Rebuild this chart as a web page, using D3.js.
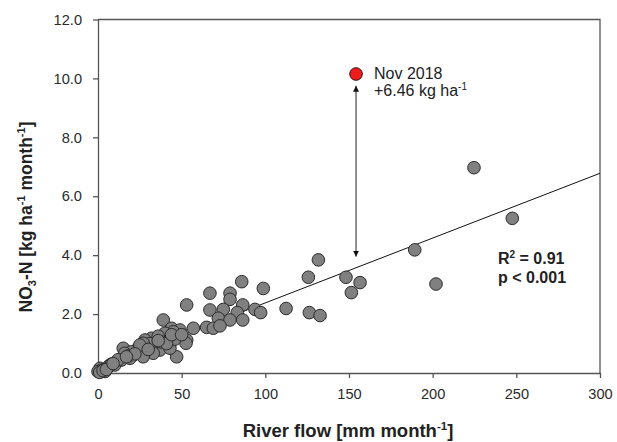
<!DOCTYPE html>
<html>
<head>
<meta charset="utf-8">
<script src="https://cdn.jsdelivr.net/npm/d3@7"></script>
<style>
  body { margin: 0; background: #fff; }
  svg text { font-family: "Liberation Sans", Arial, sans-serif; fill: #222; }
  .axis path, .axis line { stroke: #555; stroke-width: 1.3; }
  .axis text { font-size: 14.6px; fill: #2a2a2a; }
</style>
</head>
<body>
<svg id="chart"></svg>
<script>
// river flow (mm month-1) and NO3-N load (kg ha-1 month-1)
var flowValues = [
  224.7, 247.6, 189.3, 202, 131.7, 125.7, 148.2, 156.6, 151.4, 112.4, 126.3, 132.7, 93.8, 97.2, 98.8,
  85.9, 66.9, 78.9, 78.9, 53, 66.9, 74.9, 86.5, 83.2, 71.9, 78.9, 86.5, 64.9, 68.9, 72.9,
  57, 39, 44, 49, 42, 49, 53, 52.6, 47, 39, 32, 28.1, 34, 37, 43,
  35, 29.1, 23.1, 21.1, 15.1, 15.1, 19.1, 11.2, 7.2, 6.2, 1.2, 2.2, 0,
  45, 40, 36, 31, 27, 24, 20, 16, 14, 10, 4.2, 1, 33, 27, 38, 46, 25,
  18, 12, 8, 3, 5, 30, 41, 44, 50, 36, 22, 17, 9
];
var nitrateValues = [
  6.97, 5.25, 4.18, 3.02, 3.84, 3.25, 3.25, 3.07, 2.73, 2.19, 2.05, 1.95, 2.16, 2.05, 2.87,
  3.10, 2.71, 2.71, 2.50, 2.31, 2.14, 2.16, 2.31, 2.05, 1.86, 1.80, 1.80, 1.55, 1.52, 1.60,
  1.52, 1.80, 1.52, 1.46, 1.29, 1.23, 1.12, 1.01, 0.55, 1.23, 1.18, 1.12, 0.89, 0.78, 0.84,
  1.06, 0.89, 0.78, 0.61, 0.84, 0.50, 0.50, 0.38, 0.27, 0.21, 0.16, 0.10, 0.05,
  1.40, 1.35, 1.25, 1.00, 1.01, 0.84, 0.72, 0.67, 0.44, 0.27, 0.05, 0.02, 0.67, 0.55, 1.05, 1.15, 0.95,
  0.58, 0.45, 0.30, 0.08, 0.12, 0.80, 1.00, 1.30, 1.30, 1.10, 0.65, 0.55, 0.32
];

// Nov 2018 outlier and the arrow down to the fitted value
var outlierFlow = 154.2;
var outlierNitrate = 10.15;
var arrowRange = [9.75, 3.95];

// linear fit
var fitIntercept = 0.18;
var fitSlope = 0.0220;
var fitRange = [0, 300];

var xTicks = [0, 50, 100, 150, 200, 250, 300];
var yTicks = [0, 2, 4, 6, 8, 10, 12];

var w = 617;
var h = 442;
var margin = { top: 19.5, right: 17, bottom: 69, left: 98 };
var width = w - margin.left - margin.right;
var height = h - margin.top - margin.bottom;

var svg = d3.select('#chart').attr('width', w).attr('height', h);

var defs = svg.append('defs');
defs.append('marker')
    .attr('id', 'arrowEnd')
    .attr('viewBox', '0 0 10 10')
    .attr('refX', 10).attr('refY', 5)
    .attr('markerWidth', 6).attr('markerHeight', 9)
    .attr('markerUnits', 'userSpaceOnUse')
    .attr('orient', 'auto')
    .append('path').attr('d', 'M0,0 L10,5 L0,10 Z').attr('fill', '#111');
defs.append('marker')
    .attr('id', 'arrowStart')
    .attr('viewBox', '0 0 10 10')
    .attr('refX', 0).attr('refY', 5)
    .attr('markerWidth', 6).attr('markerHeight', 9)
    .attr('markerUnits', 'userSpaceOnUse')
    .attr('orient', 'auto')
    .append('path').attr('d', 'M10,0 L0,5 L10,10 Z').attr('fill', '#111');

var g = svg.append('g').attr('transform', 'translate(' + margin.left + ',' + margin.top + ')');

var x = d3.scaleLinear().domain([0, 300]).range([0, width]);
var y = d3.scaleLinear().domain([0, 12]).range([height, 0]);

// axes
g.append('g')
    .attr('class', 'axis axis-x')
    .attr('transform', 'translate(0,' + height + ')')
    .call(d3.axisBottom(x).tickValues(xTicks).tickSizeInner(5).tickSizeOuter(0).tickPadding(11));

g.append('g')
    .attr('class', 'axis axis-y')
    .call(d3.axisLeft(y).tickValues(yTicks).tickFormat(d3.format('.1f')).tickSizeInner(5).tickSizeOuter(0).tickPadding(11));

// top and right frame
g.append('path')
    .attr('d', 'M0,0 H' + width + ' V' + height)
    .attr('fill', 'none')
    .attr('stroke', '#555')
    .attr('stroke-width', 1.3);

// regression line
g.append('line')
    .attr('x1', x(fitRange[0])).attr('y1', y(fitIntercept + fitSlope * fitRange[0]))
    .attr('x2', x(fitRange[1])).attr('y2', y(fitIntercept + fitSlope * fitRange[1]))
    .attr('stroke', '#111')
    .attr('stroke-width', 1);

var points = flowValues.map(function(d, i) { return { flow: d, no3: nitrateValues[i] }; });

g.append('g').selectAll('circle')
    .data(points)
    .enter().append('circle')
    .attr('cx', function(d) { return x(d.flow); })
    .attr('cy', function(d) { return y(d.no3); })
    .attr('r', 6.3)
    .attr('fill', '#808080')
    .attr('stroke', '#2b2b2b')
    .attr('stroke-width', 1);

// arrow
g.append('line')
    .attr('x1', x(outlierFlow)).attr('y1', y(arrowRange[0]))
    .attr('x2', x(outlierFlow)).attr('y2', y(arrowRange[1]))
    .attr('stroke', '#222')
    .attr('stroke-width', 1)
    .attr('marker-start', 'url(#arrowStart)')
    .attr('marker-end', 'url(#arrowEnd)');

g.append('circle')
    .attr('cx', x(outlierFlow))
    .attr('cy', y(outlierNitrate))
    .attr('r', 6.3)
    .attr('fill', '#ee1c1c')
    .attr('stroke', '#3a1010')
    .attr('stroke-width', 1);

// annotation text
var note = g.append('text')
    .attr('x', x(outlierFlow) + 18)
    .attr('y', y(outlierNitrate) + 5)
    .style('font-size', '16px');
note.append('tspan').text('Nov 2018');
var note2 = g.append('text')
    .attr('x', x(outlierFlow) + 18)
    .attr('y', y(outlierNitrate) + 22)
    .style('font-size', '16px');
note2.append('tspan').text('+6.46 kg ha');
note2.append('tspan').attr('dy', -6).style('font-size', '10px').text('-1');

var stats = g.append('text')
    .attr('x', 400)
    .attr('y', 244)
    .style('font-size', '16px')
    .style('font-weight', 'bold');
stats.append('tspan').text('R');
stats.append('tspan').attr('dy', -6).style('font-size', '10px').text('2');
stats.append('tspan').attr('dy', 6).text(' = 0.91');
g.append('text')
    .attr('x', 400)
    .attr('y', 263.5)
    .style('font-size', '16px')
    .style('font-weight', 'bold')
    .text('p < 0.001');

// axis titles
var xt = svg.append('text')
    .attr('x', 348)
    .attr('y', 437)
    .attr('text-anchor', 'middle')
    .style('font-size', '18.5px')
    .style('font-weight', 'bold');
xt.append('tspan').text('River flow [mm month');
xt.append('tspan').attr('dy', -7).style('font-size', '11.5px').text('-1');
xt.append('tspan').attr('dy', 7).text(']');

var yt = svg.append('text')
    .attr('transform', 'translate(32,217) rotate(-90)')
    .attr('text-anchor', 'middle')
    .style('font-size', '17.5px')
    .style('font-weight', 'bold');
yt.append('tspan').text('NO');
yt.append('tspan').attr('dy', 4).style('font-size', '11px').text('3');
yt.append('tspan').attr('dy', -4).text('-N [kg ha');
yt.append('tspan').attr('dy', -7).style('font-size', '11px').text('-1');
yt.append('tspan').attr('dy', 7).text(' month');
yt.append('tspan').attr('dy', -7).style('font-size', '11px').text('-1');
yt.append('tspan').attr('dy', 7).text(']');
</script>
</body>
</html>
